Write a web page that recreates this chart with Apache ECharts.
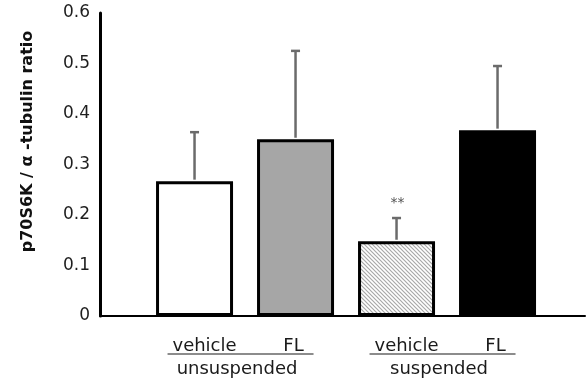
<!DOCTYPE html>
<html>
<head>
<meta charset="utf-8">
<script src="https://cdn.jsdelivr.net/npm/echarts@6/dist/echarts.min.js"></script>
<style>html,body{margin:0;padding:0;background:#fff}#c{width:587px;height:380px}</style>
</head>
<body>
<div id="c"></div>
<script>
// ---- data ----
const categories = ['vehicle', 'FL', 'vehicle', 'FL'];
const values = [0.267, 0.35, 0.148, 0.368];
const errors = [0.097, 0.175, 0.046, 0.127];
const marks = ['', '', '**', ''];
const groups = ['unsuspended', 'suspended'];
const groupStart = [0, 2];
const yTicks = [0, 0.1, 0.2, 0.3, 0.4, 0.5, 0.6];

// ---- styles ----
function hatch() {
  const c = document.createElement('canvas');
  c.width = 4; c.height = 4;
  const g = c.getContext('2d');
  g.fillStyle = '#fff'; g.fillRect(0, 0, 4, 4);
  g.strokeStyle = '#a8a8a8'; g.lineWidth = 1.2;
  g.beginPath();
  g.moveTo(-1, -1); g.lineTo(5, 5);
  g.moveTo(-1, 3); g.lineTo(1, 5);
  g.moveTo(3, -1); g.lineTo(5, 1);
  g.stroke();
  return c;
}
const fills = ['#ffffff', '#a6a6a6', { image: hatch(), repeat: 'repeat' }, '#000000'];
const FONT = 'DejaVu Sans';

const chart = echarts.init(document.getElementById('c'), null, { renderer: 'canvas' });

chart.setOption({
  animation: false,
  grid: { left: 100, right: 2, top: 13, bottom: 64 },
  xAxis: {
    type: 'value', min: -0.936, max: 3.866,
    axisLine: { show: true, onZero: false, lineStyle: { color: '#000', width: 2 } },
    axisTick: { show: false }, axisLabel: { show: false }, splitLine: { show: false }
  },
  yAxis: {
    type: 'value', min: 0, max: 0.6, interval: 0.1,
    name: 'p70S6K / α -tubulin ratio',
    nameLocation: 'middle', nameGap: 64,
    nameTextStyle: { fontFamily: FONT, fontWeight: 'bold', fontSize: 16, color: '#111', padding: [0, 0, 0, 46] },
    axisLine: { show: true, onZero: false, lineStyle: { color: '#000', width: 3 } },
    axisTick: { show: false },
    splitLine: { show: false },
    axisLabel: {
      fontFamily: FONT, fontSize: 17, color: '#1e1e1e', margin: 10,
      formatter: v => { const t = yTicks.find(x => Math.abs(x - v) < 1e-9); return t === 0 ? '0' : t.toFixed(1); }
    }
  },
  series: [
    {
      type: 'bar', barWidth: 77,
      data: values.map((v, i) => ({
        value: [i, v],
        itemStyle: { color: fills[i], borderColor: '#000', borderWidth: 3 }
      })),
      z: 2
    },
    {
      type: 'custom', z: 3, clip: false,
      data: values.map((v, i) => [i, v, errors[i]]),
      renderItem: (params, api) => {
        const x = api.value(0), v = api.value(1), e = api.value(2);
        const p0 = api.coord([x, v]);
        const p1 = api.coord([x, v + e]);
        const mark = marks[params.dataIndex];
        const children = [
          { type: 'line', shape: { x1: p0[0], y1: p0[1] - 1.5, x2: p1[0], y2: p1[1] }, style: { stroke: '#6b6b6b', lineWidth: 2.5 } },
          { type: 'line', shape: { x1: p1[0] - 4.5, y1: p1[1], x2: p1[0] + 4.5, y2: p1[1] }, style: { stroke: '#6b6b6b', lineWidth: 2.5 } }
        ];
        if (mark) {
          children.push({ type: 'text', style: { text: mark, x: p1[0] + 1, y: p1[1] - 15, align: 'center', verticalAlign: 'middle', font: '14px ' + FONT, fill: '#555' } });
        }
        return { type: 'group', children };
      }
    },
    {
      type: 'custom', z: 3, clip: false,
      data: groups.map((g, k) => [groupStart[k], groupStart[k] + 1]),
      renderItem: (params, api) => {
        const a = api.coord([api.value(0), 0]);
        const b = api.coord([api.value(1), 0]);
        const k = params.dataIndex;
        const y0 = a[1];
        const font = '18px ' + FONT;
        return {
          type: 'group',
          children: [
            { type: 'text', style: { text: categories[groupStart[k]], x: a[0] + 10, y: y0 + 30, align: 'center', verticalAlign: 'middle', font, fill: '#1a1a1a' } },
            { type: 'text', style: { text: categories[groupStart[k] + 1], x: b[0] - 2, y: y0 + 30, align: 'center', verticalAlign: 'middle', font, fill: '#1a1a1a' } },
            { type: 'line', shape: { x1: a[0] - 27, y1: y0 + 38, x2: b[0] + 18, y2: y0 + 38 }, style: { stroke: '#1a1a1a', lineWidth: 1.2 } },
            { type: 'text', style: { text: groups[k], x: (a[0] + b[0]) / 2 - 8, y: y0 + 53, align: 'center', verticalAlign: 'middle', font, fill: '#1a1a1a' } }
          ]
        };
      }
    }
  ]
});
</script>
</body>
</html>
